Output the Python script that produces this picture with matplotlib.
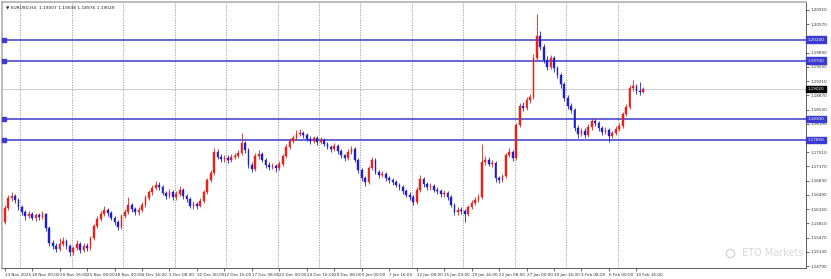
"""
EURUSD H4 캔들 차트 재현 (MT4 스타일).
봉 하나 = 8시간 (읽기 편하게 H4 두 개를 하나로 묶음), 값은 그림에서 눈으로 읽은 것.
"""
import matplotlib
matplotlib.use("Agg")
import matplotlib.pyplot as plt

# ── 데이터 ─────────────────────────────────────────────
FIRST_OPEN = 1.1584
CLOSE = [
    1.1618, 1.1642, 1.1646, 1.1637, 1.1620, 1.1608, 1.1599, 1.1603, 1.1594, 1.1601,
    1.1596, 1.1603, 1.1570, 1.1534, 1.1527, 1.1520, 1.1532, 1.1539, 1.1527, 1.1513,
    1.1522, 1.1532, 1.1517, 1.1527, 1.1522, 1.1546, 1.1575, 1.1591, 1.1603, 1.1613,
    1.1606, 1.1594, 1.1584, 1.1572, 1.1599, 1.1608, 1.1625, 1.1615, 1.1608, 1.1613,
    1.1625, 1.1642, 1.1656, 1.1666, 1.1673, 1.1668, 1.1654, 1.1646, 1.1656, 1.1644,
    1.1651, 1.1661, 1.1646, 1.1639, 1.1623, 1.1627, 1.1623, 1.1635, 1.1656, 1.1685,
    1.1701, 1.1752, 1.1740, 1.1735, 1.1737, 1.1733, 1.1740, 1.1742, 1.1749, 1.1773,
    1.1756, 1.1721, 1.1711, 1.1742, 1.1747, 1.1733, 1.1721, 1.1716, 1.1718, 1.1713,
    1.1723, 1.1742, 1.1764, 1.1778, 1.1785, 1.1795, 1.1797, 1.1792, 1.1783, 1.1778,
    1.1785, 1.1776, 1.1780, 1.1771, 1.1764, 1.1759, 1.1766, 1.1754, 1.1744, 1.1737,
    1.1752, 1.1759, 1.1733, 1.1709, 1.1689, 1.1680, 1.1713, 1.1733, 1.1704, 1.1697,
    1.1699, 1.1689, 1.1685, 1.1680, 1.1673, 1.1668, 1.1658, 1.1649, 1.1644, 1.1632,
    1.1661, 1.1687, 1.1675, 1.1668, 1.1670, 1.1661, 1.1658, 1.1651, 1.1654, 1.1644,
    1.1625, 1.1608, 1.1613, 1.1611, 1.1603, 1.1620, 1.1630, 1.1637, 1.1644, 1.1728,
    1.1733, 1.1723, 1.1725, 1.1689, 1.1685, 1.1694, 1.1744, 1.1752, 1.1737, 1.1816,
    1.1862, 1.1857, 1.1876, 1.1883, 1.1976, 1.2029, 1.2003, 1.1972, 1.1955, 1.1976,
    1.1952, 1.1936, 1.1914, 1.1881, 1.1862, 1.1852, 1.1809, 1.1795, 1.1802, 1.1792,
    1.1811, 1.1826, 1.1821, 1.1809, 1.1799, 1.1804, 1.1790, 1.1797, 1.1807, 1.1814,
    1.1842, 1.1859, 1.1905, 1.1909, 1.1897, 1.1895, 1.1902,
]
HIGH = [
    1.1625, 1.1650, 1.1655, 1.1652, 1.1641, 1.1626, 1.1613, 1.1610, 1.1609, 1.1607,
    1.1606, 1.1611, 1.1607, 1.1574, 1.1541, 1.1533, 1.1545, 1.1549, 1.1543, 1.1531,
    1.1528, 1.1541, 1.1536, 1.1535, 1.1533, 1.1552, 1.1580, 1.1598, 1.1610, 1.1622,
    1.1618, 1.1611, 1.1598, 1.1590, 1.1604, 1.1615, 1.1644, 1.1630, 1.1620, 1.1619,
    1.1631, 1.1648, 1.1662, 1.1673, 1.1682, 1.1679, 1.1672, 1.1659, 1.1663, 1.1660,
    1.1658, 1.1670, 1.1665, 1.1651, 1.1643, 1.1634, 1.1632, 1.1641, 1.1661, 1.1690,
    1.1709, 1.1760, 1.1758, 1.1747, 1.1745, 1.1744, 1.1747, 1.1750, 1.1756, 1.1797,
    1.1779, 1.1760, 1.1727, 1.1749, 1.1756, 1.1752, 1.1738, 1.1727, 1.1726, 1.1724,
    1.1730, 1.1748, 1.1770, 1.1785, 1.1793, 1.1804, 1.1806, 1.1802, 1.1798, 1.1790,
    1.1791, 1.1789, 1.1787, 1.1786, 1.1776, 1.1769, 1.1773, 1.1770, 1.1758, 1.1748,
    1.1758, 1.1766, 1.1763, 1.1737, 1.1713, 1.1694, 1.1718, 1.1740, 1.1737, 1.1709,
    1.1706, 1.1703, 1.1694, 1.1690, 1.1684, 1.1678, 1.1672, 1.1663, 1.1655, 1.1648,
    1.1667, 1.1697, 1.1692, 1.1680, 1.1678, 1.1675, 1.1667, 1.1663, 1.1660, 1.1658,
    1.1648, 1.1629, 1.1620, 1.1619, 1.1616, 1.1626, 1.1637, 1.1643, 1.1652, 1.1771,
    1.1742, 1.1739, 1.1732, 1.1729, 1.1694, 1.1700, 1.1750, 1.1761, 1.1757, 1.1822,
    1.1868, 1.1870, 1.1883, 1.1890, 1.1985, 1.2082, 1.2040, 1.2010, 1.1980, 1.1984,
    1.1981, 1.1958, 1.1941, 1.1919, 1.1887, 1.1868, 1.1856, 1.1815, 1.1810, 1.1808,
    1.1818, 1.1833, 1.1831, 1.1826, 1.1814, 1.1811, 1.1808, 1.1803, 1.1813, 1.1820,
    1.1848, 1.1866, 1.1912, 1.1924, 1.1914, 1.1920, 1.1908,
]
LOW = [
    1.1580, 1.1612, 1.1635, 1.1630, 1.1613, 1.1601, 1.1590, 1.1593, 1.1588, 1.1587,
    1.1589, 1.1591, 1.1564, 1.1527, 1.1519, 1.1512, 1.1515, 1.1526, 1.1520, 1.1502,
    1.1506, 1.1517, 1.1510, 1.1512, 1.1514, 1.1518, 1.1541, 1.1569, 1.1586, 1.1598,
    1.1599, 1.1588, 1.1577, 1.1566, 1.1568, 1.1593, 1.1603, 1.1609, 1.1601, 1.1602,
    1.1608, 1.1620, 1.1637, 1.1650, 1.1660, 1.1661, 1.1648, 1.1639, 1.1641, 1.1638,
    1.1637, 1.1646, 1.1640, 1.1632, 1.1617, 1.1616, 1.1615, 1.1619, 1.1630, 1.1651,
    1.1679, 1.1696, 1.1734, 1.1728, 1.1727, 1.1725, 1.1728, 1.1734, 1.1737, 1.1744,
    1.1750, 1.1714, 1.1704, 1.1707, 1.1736, 1.1727, 1.1714, 1.1708, 1.1710, 1.1705,
    1.1708, 1.1718, 1.1737, 1.1758, 1.1772, 1.1780, 1.1789, 1.1786, 1.1777, 1.1771,
    1.1772, 1.1769, 1.1770, 1.1765, 1.1758, 1.1752, 1.1754, 1.1748, 1.1738, 1.1730,
    1.1732, 1.1746, 1.1727, 1.1702, 1.1683, 1.1671, 1.1676, 1.1708, 1.1698, 1.1690,
    1.1691, 1.1683, 1.1678, 1.1673, 1.1667, 1.1661, 1.1652, 1.1643, 1.1637, 1.1625,
    1.1628, 1.1656, 1.1669, 1.1661, 1.1662, 1.1655, 1.1651, 1.1645, 1.1645, 1.1638,
    1.1619, 1.1601, 1.1602, 1.1604, 1.1584, 1.1598, 1.1615, 1.1624, 1.1632, 1.1640,
    1.1720, 1.1717, 1.1716, 1.1680, 1.1677, 1.1680, 1.1690, 1.1739, 1.1731, 1.1733,
    1.1811, 1.1849, 1.1851, 1.1869, 1.1879, 1.1970, 1.1995, 1.1965, 1.1947, 1.1950,
    1.1944, 1.1928, 1.1905, 1.1873, 1.1855, 1.1844, 1.1801, 1.1786, 1.1789, 1.1785,
    1.1788, 1.1805, 1.1814, 1.1802, 1.1792, 1.1794, 1.1776, 1.1784, 1.1792, 1.1801,
    1.1810, 1.1837, 1.1855, 1.1898, 1.1891, 1.1889, 1.1893,
]

LEVELS = [1.2020, 1.1970, 1.1830, 1.1780]
LAST_PRICE = 1.19020
PRICE_TICKS = [1.14790, 1.15130, 1.15470, 1.15810, 1.16150, 1.16490, 1.16830,
               1.17170, 1.17510, 1.17850, 1.18190, 1.18530, 1.18870, 1.19210,
               1.19550, 1.19890, 1.20230, 1.20570, 1.20910]
DATE_LABELS = ["13 Nov 2025", "18 Nov 00:00", "20 Nov 16:00", "25 Nov 08:00",
               "28 Nov 00:00", "2 Dec 16:00", "5 Dec 08:00", "10 Dec 00:00",
               "12 Dec 16:00", "17 Dec 08:00", "22 Dec 00:00", "24 Dec 16:00",
               "29 Dec 08:00", "5 Jan 00:00", "7 Jan 16:00", "12 Jan 08:00",
               "15 Jan 00:00", "19 Jan 16:00", "22 Jan 08:00", "27 Jan 00:00",
               "29 Jan 16:00", "3 Feb 08:00", "6 Feb 00:00", "10 Feb 16:00"]
BARS_PER_LABEL = 8
WEEK_STARTS = [5, 20, 35, 50, 65, 80, 92, 104, 119, 134, 149, 164, 179]  # 월요일 봉 번호
HEADER = "\u25bc EURUSD,H4  1.19007 1.19038 1.18976 1.19029"

UP, DOWN = "#e8201a", "#1f1fc8"
LINE_BLUE = "#3a3ad0"
FS = 3.0   # MT4 축 글씨는 아주 작음


def price_tag(ax, y, fc):
    """오른쪽 가격축 위 색깔 라벨 (MT4 라인 라벨)"""
    ax.text(1.002, y, f"{y:.5f}", transform=ax.get_yaxis_transform(),
            fontsize=FS, color="white", va="center", ha="left", zorder=6,
            bbox=dict(boxstyle="square,pad=0.3", fc=fc, ec=fc), clip_on=False)


def main():
    fig = plt.figure(figsize=(8.31, 2.79), dpi=100, facecolor="white")
    ax = fig.add_axes([0.002, 11 / 279, 806 / 831 - 0.002, 266 / 279])

    opens = [FIRST_OPEN] + CLOSE[:-1]
    n = len(CLOSE)
    xs = list(range(n))
    cols = [UP if c >= o else DOWN for o, c in zip(opens, CLOSE)]

    # 캔들: 심지 + 몸통
    ax.vlines(xs, LOW, HIGH, colors=cols, linewidth=0.6, zorder=3)
    bottoms = [min(o, c) for o, c in zip(opens, CLOSE)]
    heights = [max(abs(c - o), 0.00008) for o, c in zip(opens, CLOSE)]
    ax.bar(xs, heights, bottom=bottoms, width=0.5, color=cols,
           edgecolor=cols, linewidth=0.3, zorder=4)

    # 수평선 (지지/저항)
    for lv in LEVELS:
        ax.axhline(lv, color=LINE_BLUE, linewidth=1.1, zorder=2)
        ax.plot([-0.3], [lv], "s", ms=2.2, color=LINE_BLUE, zorder=5, clip_on=False)
        price_tag(ax, lv, LINE_BLUE)
    ax.axhline(LAST_PRICE, color="#c8c8c8", linewidth=0.6, zorder=1)
    price_tag(ax, LAST_PRICE, "black")

    # 주 단위 세로 점선
    for w in WEEK_STARTS:
        ax.axvline(w - 0.5, color="#9a9a9a", linewidth=0.6, linestyle=(0, (1.5, 1.5)),
                   zorder=1)

    ax.set_xlim(-0.87, 233.4)
    ax.set_ylim(1.14744, 1.21101)

    # 색 라벨에 가려지는 눈금 글씨는 MT4처럼 숨김
    hidden = [min(abs(t - lv) for lv in LEVELS + [LAST_PRICE]) < 0.0007 for t in PRICE_TICKS]
    ax.yaxis.tick_right()
    ax.set_yticks(PRICE_TICKS, ["" if h else f"{t:.5f}" for t, h in zip(PRICE_TICKS, hidden)])
    ax.tick_params(axis="y", labelsize=FS, length=2, width=0.5, pad=1.5,
                   colors="#333333")
    ax.set_xticks([k * BARS_PER_LABEL for k in range(len(DATE_LABELS))], DATE_LABELS)
    ax.tick_params(axis="x", labelsize=FS, length=2, width=0.5, pad=1.5,
                   colors="#333333")
    for lab in ax.get_xticklabels():
        lab.set_horizontalalignment("left")

    for side in ("right", "bottom"):
        ax.spines[side].set_color("#444444")
        ax.spines[side].set_linewidth(0.6)
    for side in ("top", "left"):
        ax.spines[side].set_color("#b0b0b0")
        ax.spines[side].set_linewidth(1.2)

    ax.text(0.006, 0.985, HEADER, transform=ax.transAxes, fontsize=3.2,
            va="top", ha="left", color="#222222")

    # 워터마크 (축 안쪽에서 끝나게)
    ax.plot([0.905], [0.056], "o", ms=6, mfc="none", mec="#d6d6d6", mew=1.0,
            transform=ax.transAxes, zorder=1)
    ax.text(0.997, 0.056, "ETO Markets", transform=ax.transAxes, fontsize=7,
            color="#d8d8d8", va="center", ha="right", zorder=1)

    fig.savefig("out.png", dpi=100, facecolor="white")


if __name__ == "__main__":
    main()
